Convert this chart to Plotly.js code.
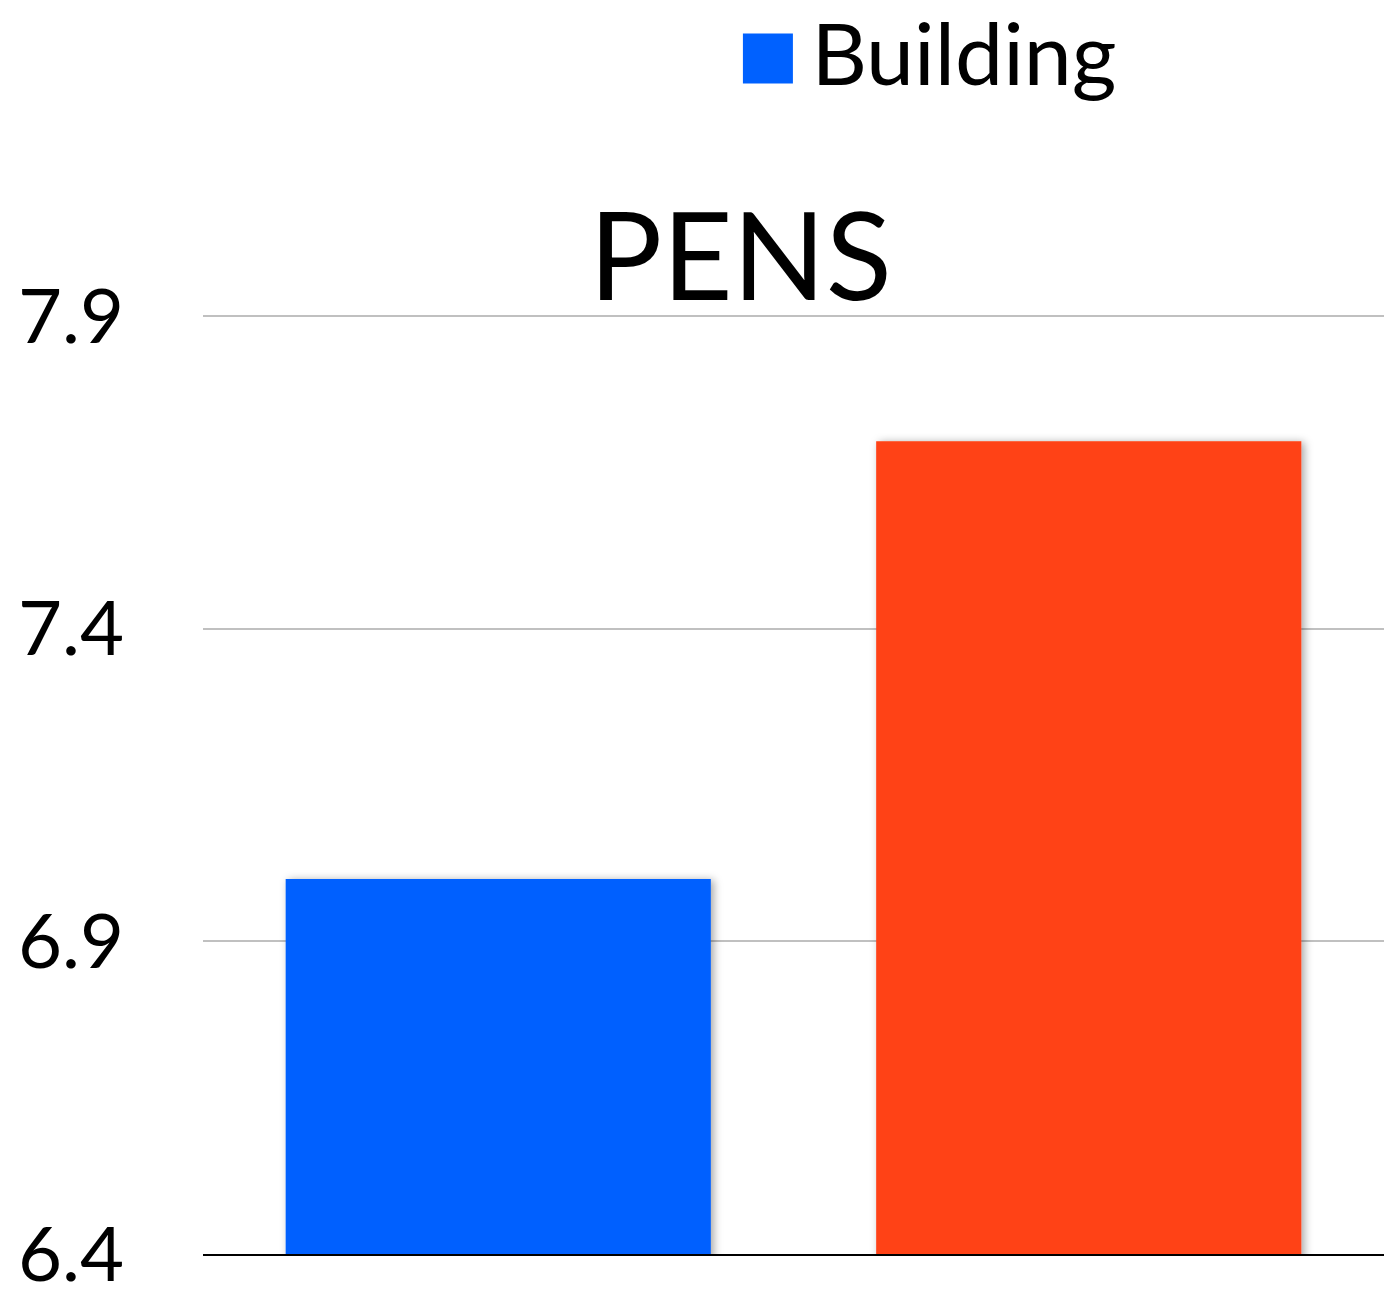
<!DOCTYPE html>
<html>
<head>
<meta charset="utf-8">
<script src="https://cdn.plot.ly/plotly-3.0.1.min.js"></script>
<style>
html,body{margin:0;padding:0;background:#fff;}
#chart{width:1384px;height:1298px;}
</style>
</head>
<body>
<div id="chart"></div>
<script>
const categories = ["Building", "Other"];
const buildingValues = [7.0];
const otherValues = [7.7];
const tickValues = [6.4, 6.9, 7.4, 7.9];
const tickLabels = ["6.4", "6.9", "7.4", "7.9"];

const FONT = "Lato, 'Open Sans', sans-serif";

const traces = [
  {
    type: "bar",
    name: "Building",
    x: [categories[0]],
    y: buildingValues,
    marker: {color: "#0061FF", line: {width: 0}},
    width: 0.72,
    hoverinfo: "y"
  },
  {
    type: "bar",
    name: "Other",
    x: [categories[1]],
    y: otherValues,
    marker: {color: "#FF4216", line: {width: 0}},
    width: 0.72,
    showlegend: false,
    hoverinfo: "y"
  }
];

const layout = {
  width: 1384,
  height: 1298,
  margin: {l: 203, r: 0, t: 314, b: 44, pad: 0, autoexpand: false},
  paper_bgcolor: "#ffffff",
  plot_bgcolor: "#ffffff",
  font: {family: FONT, color: "#000000"},
  barmode: "overlay",
  title: {
    text: "PENS",
    font: {family: FONT, size: 122, color: "#000000"},
    x: 0.535,
    xanchor: "center",
    y: 0.802,
    yref: "container",
    yanchor: "middle"
  },
  showlegend: true,
  legend: {
    orientation: "h",
    itemwidth: 77,
    x: 0.4415,
    xanchor: "left",
    y: 1.3457,
    yanchor: "top",
    font: {family: FONT, size: 86, color: "#000000"},
    bgcolor: "rgba(0,0,0,0)"
  },
  xaxis: {
    type: "category",
    categoryarray: categories,
    showticklabels: false,
    showgrid: false,
    zeroline: false,
    showline: true,
    linecolor: "#000000",
    linewidth: 2,
    ticks: "",
    range: [-0.5, 1.5],
    fixedrange: true
  },
  yaxis: {
    range: [6.4, 7.9035],
    tickvals: tickValues,
    ticktext: tickLabels,
    showgrid: true,
    gridcolor: "#c0c0c0",
    gridwidth: 2,
    zeroline: false,
    showline: false,
    ticks: "",
    ticklabelstandoff: 78,
    tickfont: {family: FONT, size: 76, color: "#000000"},
    fixedrange: true
  }
};

Plotly.newPlot("chart", traces, layout, {displayModeBar: false, staticPlot: true}).then(function(){
  const NS = "http://www.w3.org/2000/svg";
  document.querySelectorAll("#chart .legendpoints path").forEach(function(p){
    p.setAttribute("d", "M25,32H-25V-18H25Z");
  });
  const svg = document.querySelector("#chart .main-svg");
  let defs = svg.querySelector("defs");
  if (!defs) { defs = document.createElementNS(NS, "defs"); svg.insertBefore(defs, svg.firstChild); }
  const filter = document.createElementNS(NS, "filter");
  filter.setAttribute("id", "barShadow");
  filter.setAttribute("x", "-10%"); filter.setAttribute("y", "-10%");
  filter.setAttribute("width", "120%"); filter.setAttribute("height", "120%");
  const ds = document.createElementNS(NS, "feDropShadow");
  ds.setAttribute("dx", "3"); ds.setAttribute("dy", "1");
  ds.setAttribute("stdDeviation", "4");
  ds.setAttribute("flood-color", "#000"); ds.setAttribute("flood-opacity", "0.35");
  filter.appendChild(ds);
  defs.appendChild(filter);
  document.querySelectorAll("#chart .barlayer .point path").forEach(function(p){
    p.setAttribute("filter", "url(#barShadow)");
  });
});
</script>
</body>
</html>
